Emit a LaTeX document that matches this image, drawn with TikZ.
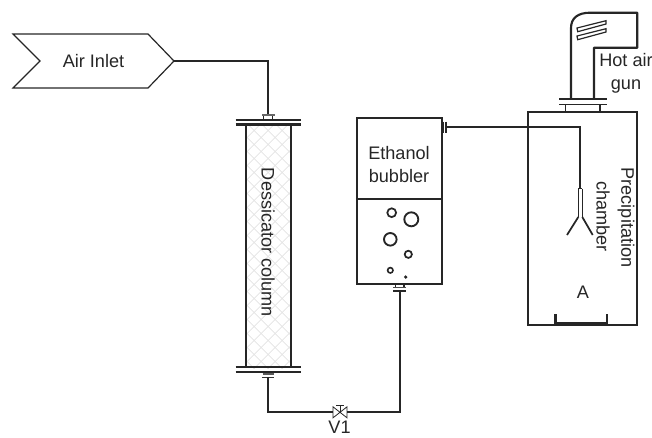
\documentclass[tikz,border=0pt]{standalone}
\usepackage{fontspec}
\setmainfont{Liberation Sans}
\begin{document}
\begin{tikzpicture}[x=0.75pt,y=-0.75pt,
  pipe/.style={line width=1.5pt,draw=black!85},
  thinline/.style={line width=0.9pt,draw=black!85},
  body/.style={line width=1.6pt,draw=black!85},
  hatchline/.style={black!11,line width=0.55pt},
  lbl/.style={text=black!85,font=\fontsize{13.6pt}{16pt}\selectfont,align=center,inner sep=0pt}]
\useasboundingbox (0,0) rectangle (652,437);
% named connector ends
\coordinate (tip) at (174,61);
\coordinate (coltop) at (268,115);
\coordinate (colbot) at (268,377);
\coordinate (bubbot) at (399.7,291);
\coordinate (bubtop) at (446,127.3);
\coordinate (nozzle) at (580,188);
\coordinate (valveL) at (333,412.3);
\coordinate (valveR) at (347,412.3);
% air inlet
\draw[line width=0.9pt,draw=black!85] (13,34) -- (148,34) -- (tip) -- (148,88) -- (13,88) -- (40,61) -- cycle;
\node[lbl] (air) at (93.5,61) {Air Inlet};
\draw[pipe] (tip) -- (268,61) -- (coltop);
% column hatch
\begin{scope}
\clip (245.7,124) rectangle (290.7,368);
\foreach \k in {0,1,...,22}{
  \draw[hatchline] (245.7,80+14*\k) -- (290.7,125+14*\k);
  \draw[hatchline] (245.7,125+14*\k) -- (290.7,80+14*\k);
}
\end{scope}
\draw[body] (245.7,124) -- (245.7,368) (290.7,124) -- (290.7,368);
\draw[body] (235.5,120) -- (300.7,120) (235.5,124.5) -- (300.7,124.5);
\draw[body] (235.5,367.3) -- (300.7,367.3) (235.5,372.2) -- (300.7,372.2);
% column top fitting
\draw[thinline] (263.5,120) -- (263.5,115.5) (272.8,120) -- (272.8,115.5);
\draw[line width=2pt,draw=black!60] (262,115) -- (274.5,115);
% column bottom fitting
\draw[thinline] (264,372) -- (264,374) (272.5,372) -- (272.5,374);
\draw[line width=1.2pt,draw=black!65] (262.5,374) -- (273.5,374);
\draw[line width=1.1pt,draw=black!80] (262,377.3) -- (274,377.3);
\node[lbl,rotate=-90] (dc) at (268,242.5) {Dessicator column};
% bubbler
\node[body,draw,minimum width=63.5pt,minimum height=124.5pt,inner sep=0pt] (bub) at (399.3,201) {};
\draw[thinline] (bub.west |- 0,199) -- (bub.east |- 0,199);
\node[lbl] (eth) at (399,164.5) {Ethanol\\[0.6pt]bubbler};
\draw[line width=1.3pt,draw=black!85] (391.7,212.7) circle[radius=4.4];
\draw[line width=1.4pt,draw=black!85] (411.3,219.3) circle[radius=7];
\draw[line width=1.4pt,draw=black!85] (390.3,239.3) circle[radius=6.3];
\draw[line width=1.3pt,draw=black!85] (408.3,254.3) circle[radius=3.6];
\draw[line width=1.2pt,draw=black!85] (390.3,270.3) circle[radius=2.7];
\fill[black!85] (405.7,277) circle[radius=1.8];
% bubbler fittings
\draw[thinline] (395.5,284) -- (395.5,288) (404,284) -- (404,288);
\draw[line width=1.1pt,draw=black!70] (393.3,287.7) -- (405.7,287.7);
\draw[line width=1.1pt,draw=black!85] (393.3,291) -- (405.7,291);
\draw[line width=1pt,draw=black!85] (443,121.7) -- (443,132.7);
\draw[line width=1pt,draw=black!85] (446,121.7) -- (446,132.7);
% pipes
\draw[pipe] (colbot) -- (268,412.3) -- (valveL);
\draw[pipe] (valveR) -- (399.7,412.3) -- (bubbot);
% valve
\draw[line width=0.6pt,draw=black!85] (valveL) ++(0,-5.5) -- ++(14,11) -- ++(0,-11) -- ++(-14,11) -- cycle;
\draw[line width=0.6pt,draw=black!85] (340,412.3) -- (340,405.2) (336,405.2) -- (344,405.2);
\node[lbl] (v1) at (339.5,427.5) {V1};
% chamber
\node[body,draw,minimum width=81.8pt,minimum height=160pt,inner sep=0pt] (ch) at (582.8,218.3) {};
\draw[pipe] (bubtop) -- (580,127.3) -- (nozzle);
\draw[line width=1pt,draw=black!85] (578.3,188.5) -- (578.3,217) (582.3,188.5) -- (582.3,217) (578.3,188.5) -- (582.3,188.5);
\draw[line width=1.3pt,draw=black!85] (567,235) -- (578.3,217) (592.7,235) -- (582.3,217);
\draw[line width=1.8pt,draw=black!85] (555.5,314) -- (555.5,323.2) -- (607,323.2) -- (607,314);
\node[lbl] (a) at (583,292.5) {A};
\node[lbl,rotate=-90] (pr) at (626,217.5) {Precipitation};
\node[lbl,rotate=-90] (cb) at (603,216.5) {chamber};
% hot air gun
\draw[body,line join=round] (571,98.5) -- (571,28) .. controls (571,18) and (578,12.7) .. (590,12.7) -- (637.3,12.7) -- (637.3,47.7) -- (594,47.7) -- (594,98.5);
\draw[body] (559,99) -- (606.7,99);
\draw[line width=1.2pt,draw=black!85] (559,104.3) -- (606.7,104.3);
\draw[thinline] (565.7,104.3) -- (565.7,111.5) (600,104.3) -- (600,111.5);
\draw[line width=0.9pt,draw=black!85] (577,28) -- (606,20.7) -- (606,24) -- (577.7,31.7) -- cycle;
\draw[line width=0.9pt,draw=black!85] (577,36) -- (606,28.7) -- (606,32) -- (577.7,39.7) -- cycle;
\node[lbl] (hot) at (626,73.5) {Hot air\\[1.5pt]gun};
\end{tikzpicture}
\end{document}
